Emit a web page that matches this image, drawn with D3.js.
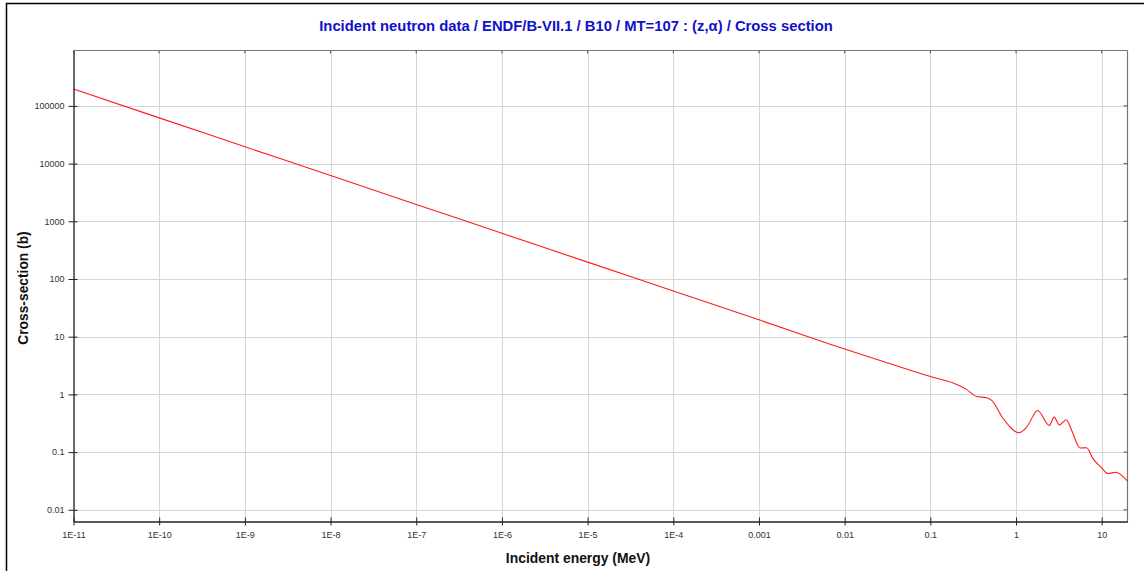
<!DOCTYPE html>
<html>
<head>
<meta charset="utf-8">
<script src="https://cdn.jsdelivr.net/npm/d3@7"></script>
<style>
  html, body { margin: 0; padding: 0; background: #fff; }
  svg { display: block; }
  text { font-family: "Liberation Sans", Arial, sans-serif; }
</style>
</head>
<body>
<svg id="chart" width="1144" height="571"></svg>
<script>
// ---- Data ----
const titleText = "Incident neutron data / ENDF/B-VII.1 / B10 / MT=107 : (z,\u03b1) / Cross section";
const xLabel = "Incident energy (MeV)";
const yLabel = "Cross-section (b)";

const energy = [1e-11, 1e-10, 1e-9, 1e-8, 1e-7, 1e-6, 1e-5, 1e-4, 1e-3, 0.00883, 0.03, 0.1, 0.185, 0.266, 0.348, 0.455, 0.52, 0.711, 1.084, 1.33, 1.79, 2.45, 2.78, 3.2, 3.86, 4.47, 5.58, 6.65, 7.9, 9.8, 11.9, 14.5, 20];
const xs     = [1.96e5, 6.2e4, 1.96e4, 6.2e3, 1.96e3, 620, 196, 62, 19.6, 6.5, 3.6, 2.04, 1.57, 1.21, 0.92, 0.877, 0.787, 0.378, 0.216, 0.27, 0.527, 0.29, 0.404, 0.295, 0.364, 0.237, 0.118, 0.119, 0.077, 0.0547, 0.0425, 0.0448, 0.0315];

const xTickValues = [1e-11, 1e-10, 1e-9, 1e-8, 1e-7, 1e-6, 1e-5, 1e-4, 1e-3, 1e-2, 1e-1, 1, 10];
const xTickLabels = ["1E-11", "1E-10", "1E-9", "1E-8", "1E-7", "1E-6", "1E-5", "1E-4", "0.001", "0.01", "0.1", "1", "10"];
const yTickValues = [1e5, 1e4, 1e3, 100, 10, 1, 0.1, 0.01];
const yTickLabels = ["100000", "10000", "1000", "100", "10", "1", "0.1", "0.01"];

const xDomain = [1e-11, 20];
const yDomain = [0.00627, 9.12e5];

// ---- Layout ----
const svg = d3.select("#chart");
const pL = 73.5, pR = 1127.5, pT = 50.5, pB = 521.5;

// outer frame (top and left visible)
svg.append("rect").attr("x", 6.5).attr("y", 3.5).attr("width", 1200).attr("height", 700)
  .attr("fill", "none").attr("stroke", "#000").attr("stroke-width", 1.5);

const x = d3.scaleLog().domain(xDomain).range([pL, pR]);
const y = d3.scaleLog().domain(yDomain).range([pB, pT]);

// grid
const grid = svg.append("g");
grid.selectAll("line.v").data(xTickValues).join("line").attr("class", "v")
  .attr("x1", d => Math.round(x(d)) + 0.5).attr("x2", d => Math.round(x(d)) + 0.5)
  .attr("y1", pT).attr("y2", pB)
  .attr("stroke", "#d6d6d6").attr("stroke-width", 1);
grid.selectAll("line.h").data(yTickValues).join("line").attr("class", "h")
  .attr("y1", d => Math.round(y(d)) + 0.5).attr("y2", d => Math.round(y(d)) + 0.5)
  .attr("x1", pL).attr("x2", pR)
  .attr("stroke", "#d6d6d6").attr("stroke-width", 1);

// plot frame: top & right gray
svg.append("line").attr("x1", pL).attr("x2", pR).attr("y1", pT).attr("y2", pT).attr("stroke", "#777").attr("stroke-width", 1);
svg.append("line").attr("x1", pR).attr("x2", pR).attr("y1", pT).attr("y2", pB).attr("stroke", "#777").attr("stroke-width", 1.2);

// curve
const line = d3.line().x(d => x(d[0])).y(d => y(d[1])).curve(d3.curveMonotoneX);
const pts = energy.map((e, i) => [e, xs[i]]);
svg.append("path").datum(pts).attr("d", line)
  .attr("fill", "none").attr("stroke", "#ff1a1a").attr("stroke-width", 1.1);

// axes
const xAxis = d3.axisBottom(x).tickValues(xTickValues)
  .tickFormat((d, i) => xTickLabels[i]).tickSizeInner(4).tickSizeOuter(0).tickPadding(6);
const gx = svg.append("g").attr("transform", `translate(0,${pB})`).call(xAxis);
gx.select(".domain").attr("stroke", "#222").attr("stroke-width", 1.3);
gx.selectAll(".tick line").attr("stroke", "#222").attr("y1", -4).attr("y2", 4);
gx.selectAll(".tick text").attr("fill", "#333").style("font-size", "9px").style("font-family", "'Liberation Sans', Arial, sans-serif");

const yAxis = d3.axisLeft(y).tickValues(yTickValues)
  .tickFormat((d, i) => yTickLabels[i]).tickSizeInner(5).tickSizeOuter(0).tickPadding(4);
const gy = svg.append("g").attr("transform", `translate(${pL},0)`).call(yAxis);
gy.select(".domain").attr("stroke", "#222").attr("stroke-width", 1.3);
gy.selectAll(".tick line").attr("stroke", "#222").attr("x1", -5).attr("x2", 4);
gy.selectAll(".tick text").attr("fill", "#333").style("font-size", "9px").style("font-family", "'Liberation Sans', Arial, sans-serif");

// top ticks and right ticks (inward)
svg.append("g").selectAll("line").data(xTickValues).join("line")
  .attr("x1", d => x(d)).attr("x2", d => x(d)).attr("y1", pT).attr("y2", pT + 3)
  .attr("stroke", "#555");
svg.append("g").selectAll("line").data(yTickValues).join("line")
  .attr("y1", d => y(d)).attr("y2", d => y(d)).attr("x1", pR - 4).attr("x2", pR)
  .attr("stroke", "#555");

// title
svg.append("text").attr("x", 576).attr("y", 30.5).attr("text-anchor", "middle")
  .attr("fill", "#1010cc").style("font-size", "14.8px").style("font-weight", "bold")
  .text(titleText);

// axis labels
svg.append("text").attr("x", 578).attr("y", 563).attr("text-anchor", "middle")
  .attr("fill", "#111").style("font-size", "13.9px").style("font-weight", "bold")
  .text(xLabel);
svg.append("text").attr("transform", `translate(28,288) rotate(-90)`).attr("text-anchor", "middle")
  .attr("fill", "#111").style("font-size", "13.8px").style("font-weight", "bold")
  .text(yLabel);
</script>
</body>
</html>
